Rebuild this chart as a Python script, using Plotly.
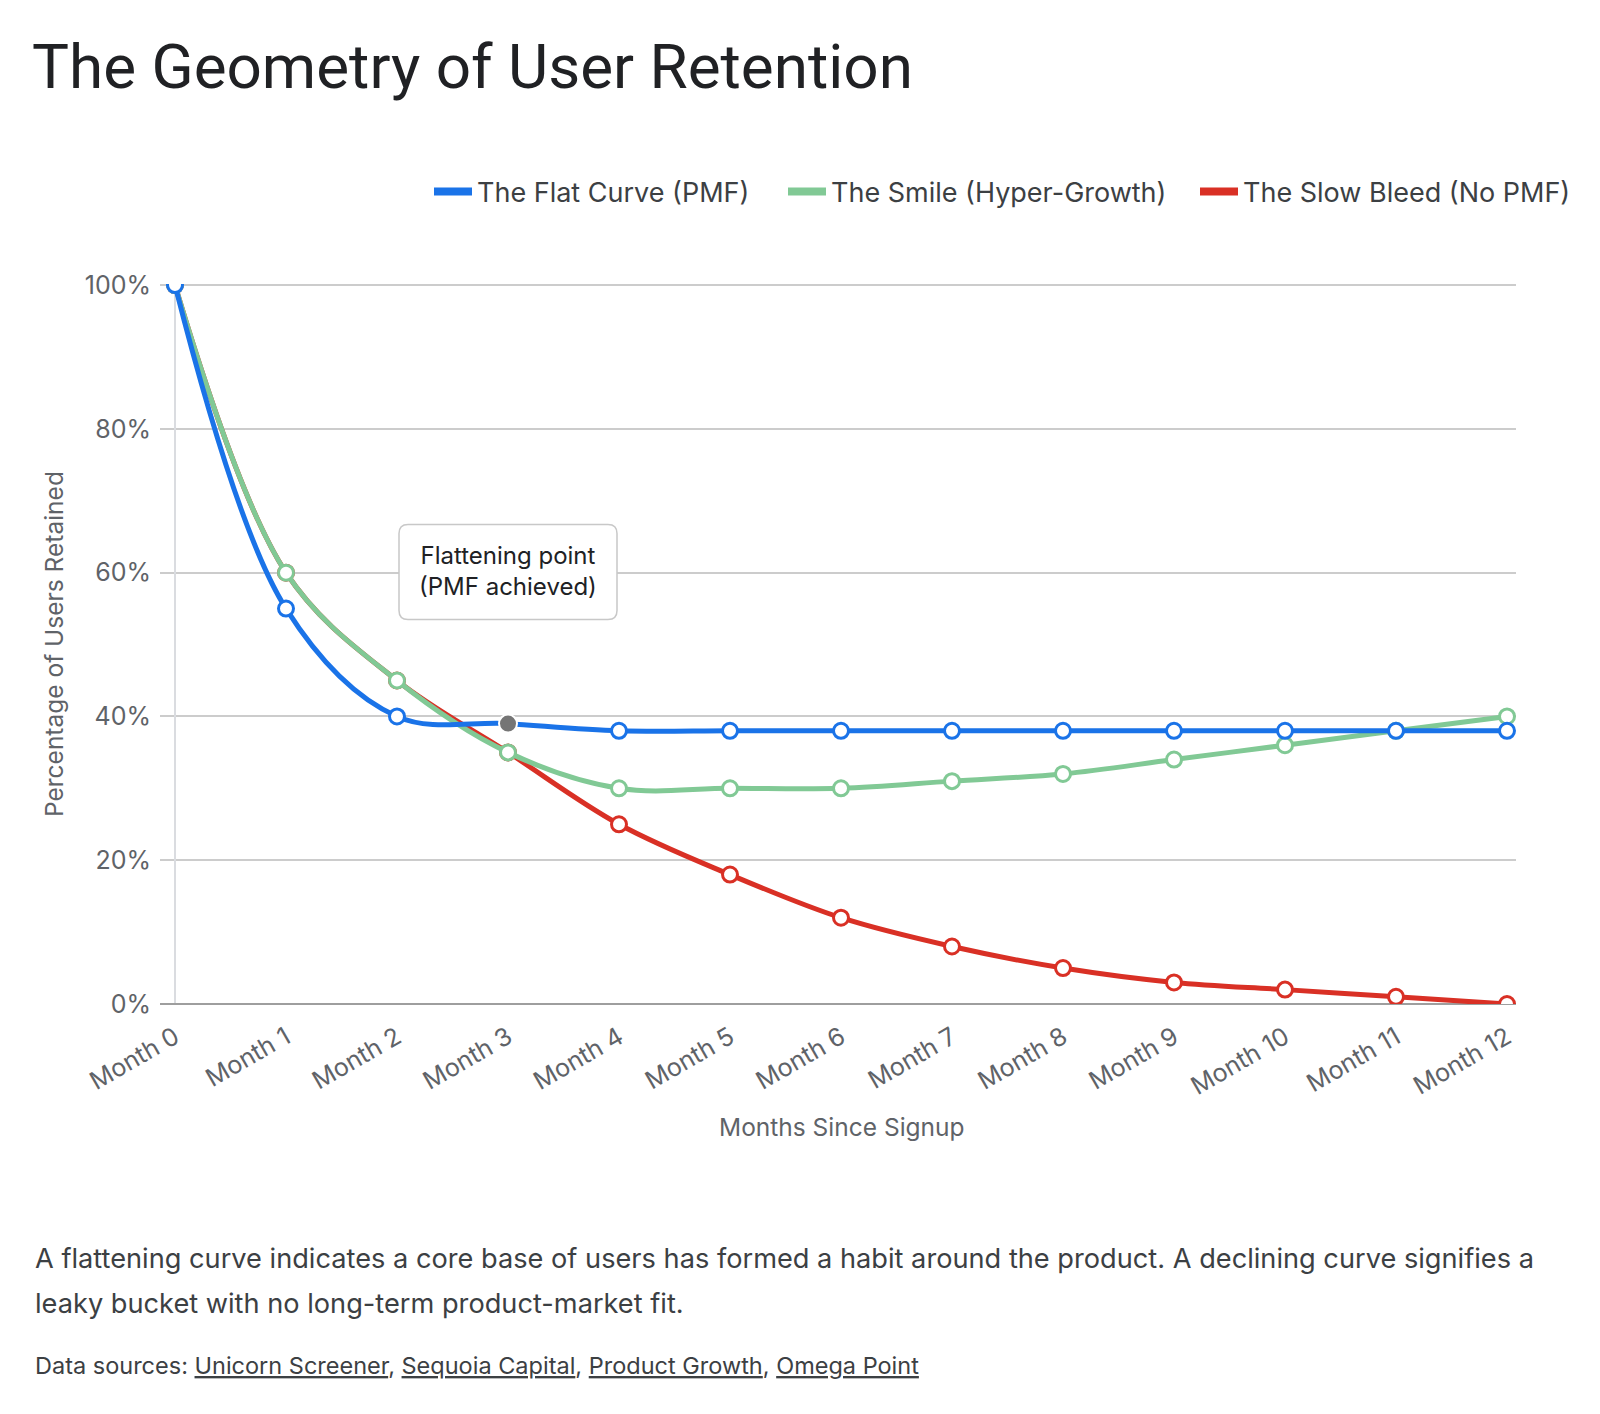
import plotly.graph_objects as go

# ---------------- data ----------------
months = ["Month 0", "Month 1", "Month 2", "Month 3", "Month 4", "Month 5", "Month 6",
          "Month 7", "Month 8", "Month 9", "Month 10", "Month 11", "Month 12"]
flat_curve = [100, 55, 40, 39, 38, 38, 38, 38, 38, 38, 38, 38, 38]
smile_curve = [100, 60, 45, 35, 30, 30, 30, 31, 32, 34, 36, 38, 40]
slow_bleed = [100, 60, 45, 35, 25, 18, 12, 8, 5, 3, 2, 1, 0]
y_ticks = [0, 20, 40, 60, 80, 100]
y_tick_labels = [f"{v}%" for v in y_ticks]
highlight_month = "Month 3"
highlight_text = "Flattening point<br>(PMF achieved)"

series_names = ["The Flat Curve (PMF)", "The Smile (Hyper-Growth)", "The Slow Bleed (No PMF)"]
BLUE, GREEN, RED, GRAY = "#1a73e8", "#81c995", "#d93025", "#757575"

W, H = 1600, 1414
L, R, T, B = 160, 1516, 284, 1004   # plot area in pixels
FONT = "Inter, Roboto, Arial, sans-serif"
TFONT = "Roboto, Arial, sans-serif"

x_idx = list(range(len(months)))
hi = months.index(highlight_month)

fig = go.Figure()

def add_series(vals, color, name, legend_id, highlight=False):
    mcol = ["white"] * len(vals)
    lcol = [color] * len(vals)
    msize = [15] * len(vals)
    lw = [3] * len(vals)
    if highlight:
        mcol[hi] = GRAY
        lcol[hi] = "white"
        msize[hi] = 18
        lw[hi] = 2
    fig.add_trace(go.Scatter(
        x=x_idx, y=vals, mode="lines+markers", name=name, showlegend=False,
        line=dict(color=color, width=5, shape="spline", smoothing=1.0),
        marker=dict(size=msize, color=mcol, opacity=1, line=dict(color=lcol, width=lw)),
        hoverinfo="skip"))
    fig.add_trace(go.Scatter(
        x=[None], y=[None], mode="lines", name=name, legend=legend_id,
        line=dict(color=color, width=8)))

add_series(slow_bleed, RED, series_names[2], "legend3")
add_series(smile_curve, GREEN, series_names[1], "legend2")
add_series(flat_curve, BLUE, series_names[0], "legend", highlight=True)

# Annotation box (rounded) above highlight point
bw, y_lo, y_hi, r = 109, 104, 199, 9
path = (f"M {-bw+r},{y_lo} L {bw-r},{y_lo} Q {bw},{y_lo} {bw},{y_lo+r} "
        f"L {bw},{y_hi-r} Q {bw},{y_hi} {bw-r},{y_hi} L {-bw+r},{y_hi} "
        f"Q {-bw},{y_hi} {-bw},{y_hi-r} L {-bw},{y_lo+r} Q {-bw},{y_lo} {-bw+r},{y_lo} Z")
fig.add_shape(type="path", xref="x", yref="y", xsizemode="pixel", ysizemode="pixel",
              xanchor=hi, yanchor=flat_curve[hi], path=path,
              line=dict(color="#c8c8c8", width=1.5), fillcolor="white", layer="above")
fig.add_annotation(x=hi, y=flat_curve[hi], xref="x", yref="y", showarrow=False,
                   xanchor="center", yanchor="middle", yshift=(y_lo + y_hi) / 2 + 1,
                   text=highlight_text, align="center",
                   font=dict(family=FONT, size=24, color="#202124"))

def px_x(p):
    return (p - L) / (R - L)

def px_y(p):
    return (B - p) / (B - T)

# axis titles
fig.add_annotation(xref="paper", yref="paper", x=px_x(54), y=px_y(644), showarrow=False,
                   text="Percentage of Users Retained", textangle=-90,
                   xanchor="center", yanchor="middle",
                   font=dict(family=FONT, size=24.5, color="#5f6368"))
fig.add_annotation(xref="paper", yref="paper", x=px_x(842), y=px_y(1127), showarrow=False,
                   text="Months Since Signup", xanchor="center", yanchor="middle",
                   font=dict(family=FONT, size=24.5, color="#5f6368"))

# footer text
fig.add_annotation(xref="paper", yref="paper", x=px_x(33), y=px_y(1258), showarrow=False,
                   xanchor="left", yanchor="middle", align="left",
                   text="A flattening curve indicates a core base of users has formed a habit around the product. A declining curve signifies a",
                   font=dict(family=FONT, size=27.2, color="#3c4043"))
fig.add_annotation(xref="paper", yref="paper", x=px_x(33), y=px_y(1303), showarrow=False,
                   xanchor="left", yanchor="middle", align="left",
                   text="leaky bucket with no long-term product-market fit.",
                   font=dict(family=FONT, size=27.2, color="#3c4043"))
fig.add_annotation(xref="paper", yref="paper", x=px_x(33), y=px_y(1365), showarrow=False,
                   xanchor="left", yanchor="middle", align="left",
                   text="Data sources: <u>Unicorn Screener</u>, <u>Sequoia Capital</u>, <u>Product Growth</u>, <u>Omega Point</u>",
                   font=dict(family=FONT, size=23.5, color="#3c4043"))

leg_common = dict(orientation="h", xref="container", yref="container",
                  xanchor="left", y=1 - 192 / H, yanchor="middle",
                  font=dict(family=FONT, size=27, color="#3c4043"),
                  itemwidth=38, bgcolor="rgba(0,0,0,0)")

x_per = (1507 - 175) / 12
fig.update_layout(
    width=W, height=H,
    margin=dict(l=L, r=W - R, t=T, b=H - B, pad=0),
    paper_bgcolor="white", plot_bgcolor="white",
    title=dict(text="The Geometry of User Retention", x=32 / W, xanchor="left",
               xref="container", yref="container", y=1 - 66 / H, yanchor="middle",
               font=dict(family=TFONT, size=62, color="#202124")),
    legend=dict(leg_common, x=429 / W),
    legend2=dict(leg_common, x=783 / W),
    legend3=dict(leg_common, x=1195 / W),
    xaxis=dict(range=[-(175 - L) / x_per, 12 + (R - 1507) / x_per],
               tickvals=x_idx, ticktext=months, tickangle=-30,
               showgrid=False, zeroline=True, zerolinecolor="#dadce0", zerolinewidth=2,
               showline=False, ticks="", ticklabelstandoff=13,
               tickfont=dict(family=FONT, size=25, color="#5f6368")),
    yaxis=dict(range=[0, 100.15], tickvals=y_ticks, ticktext=y_tick_labels,
               showgrid=True, gridcolor="#cccccc", gridwidth=1.5,
               zeroline=True, zerolinecolor="#9e9e9e", zerolinewidth=2,
               showline=False, ticks="", ticklabelstandoff=8,
               tickfont=dict(family=FONT, size=25, color="#5f6368")),
    hovermode=False,
)

fig.write_html("out.html")
